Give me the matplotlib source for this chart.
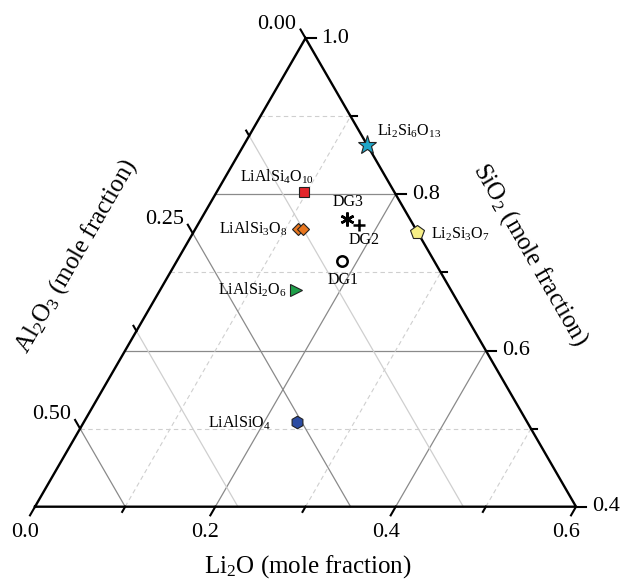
import numpy as np
import matplotlib
matplotlib.use("Agg")
import matplotlib.pyplot as plt

plt.rcParams['font.family'] = ['Liberation Serif', 'DejaVu Serif']
plt.rcParams['mathtext.fontset'] = 'custom'
plt.rcParams['mathtext.rm'] = 'Liberation Serif'
plt.rcParams['mathtext.it'] = 'Liberation Serif:italic'
plt.rcParams['mathtext.bf'] = 'Liberation Serif:bold'

# ---------------- data (mole fractions) ----------------
compound_labels = [r'Li$_2$Si$_6$O$_{13}$', r'LiAlSi$_4$O$_{10}$', r'LiAlSi$_3$O$_8$',
                   r'LiAlSi$_3$O$_8$', r'LiAlSi$_2$O$_6$', r'LiAlSiO$_4$', r'Li$_2$Si$_3$O$_7$']
compound_li2o = [0.137, 0.097, 0.114, 0.119, 0.151, 0.236, 0.248]
compound_al2o3 = [0.000, 0.100, 0.130, 0.125, 0.171, 0.255, 0.000]
compound_sio2 = [0.863, 0.803, 0.756, 0.756, 0.678, 0.509, 0.752]

glass_labels = ['DG1', 'DG2', 'DG3']
glass_li2o = [0.183, 0.179, 0.162]
glass_al2o3 = [0.103, 0.060, 0.070]
glass_sio2 = [0.714, 0.761, 0.768]

li2o_ticks = [0.0, 0.2, 0.4, 0.6]
li2o_minor = [0.1, 0.3, 0.5]
sio2_ticks = [0.4, 0.6, 0.8, 1.0]
sio2_minor = [0.5, 0.7, 0.9]
al2o3_ticks = [0.00, 0.25, 0.50]
al2o3_minor = [0.125, 0.375]

SI_MIN = 0.4
S3 = np.sqrt(3) / 2


def tern(li, si):
    li = np.asarray(li, float)
    si = np.asarray(si, float)
    return li + (si - SI_MIN) / 2, (si - SI_MIN) * S3


PX = 901.7  # pixels per data unit
fig = plt.figure(figsize=(6.2, 5.81), dpi=100)
ax = fig.add_axes([0, 0, 1, 1])
ax.set_xlim(-35 / PX, 585 / PX)
ax.set_ylim(-74.3 / PX, 506.7 / PX)
ax.axis('off')

dark = '#8a8a8a'
light = '#cfcfcf'

# constant SiO2 lines
for s in sio2_ticks[1:-1]:
    x, y = tern([0, 1 - s], [s, s])
    ax.plot(x, y, color=dark, lw=0.9, zorder=1)
for s in sio2_minor:
    x, y = tern([0, 1 - s], [s, s])
    ax.plot(x, y, color=light, lw=0.8, ls=(0, (4, 3)), zorder=1)
# constant Li2O lines
for l in li2o_ticks[1:-1]:
    x, y = tern([l, l], [SI_MIN, 1 - l])
    ax.plot(x, y, color=dark, lw=0.9, zorder=1)
for l in li2o_minor:
    x, y = tern([l, l], [SI_MIN, 1 - l])
    ax.plot(x, y, color=light, lw=0.8, ls=(0, (4, 3)), zorder=1)
# constant Al2O3 lines
for a in al2o3_ticks[1:]:
    x, y = tern([0, 1 - SI_MIN - a], [1 - a, SI_MIN])
    ax.plot(x, y, color=dark, lw=0.9, zorder=1)
for a in al2o3_minor:
    x, y = tern([0, 1 - SI_MIN - a], [1 - a, SI_MIN])
    ax.plot(x, y, color=light, lw=0.9, zorder=1)

# triangle frame
x, y = tern([0, 0.6, 0, 0], [SI_MIN, SI_MIN, 1.0, SI_MIN])
ax.plot(x, y, color='black', lw=1.7, zorder=3, solid_joinstyle='miter')

L_MAJ, L_MIN = 10 / PX, 6 / PX
fs_tick = 16

# bottom ticks (Li2O)
d = np.array([-0.5, -S3])
for l in li2o_ticks + li2o_minor:
    x0, y0 = tern(l, SI_MIN)
    L = L_MAJ if l in li2o_ticks else L_MIN
    ax.plot([x0, x0 + d[0] * L], [y0, y0 + d[1] * L], color='black', lw=1.5, zorder=3)
for l in li2o_ticks:
    x0, y0 = tern(l, SI_MIN)
    ax.annotate(f'{l:.1f}', (x0, y0), xytext=(-10, -26), textcoords='offset pixels',
                ha='center', va='center', fontsize=fs_tick)
# right ticks (SiO2)
for s in sio2_ticks + sio2_minor:
    x0, y0 = tern(1 - s, s)
    L = L_MAJ if s in sio2_ticks else L_MIN
    ax.plot([x0, x0 + L], [y0, y0], color='black', lw=1.5, zorder=3)
for s in sio2_ticks:
    x0, y0 = tern(1 - s, s)
    ax.annotate(f'{s:.1f}', (x0, y0), xytext=(16, 0), textcoords='offset pixels',
                ha='left', va='center', fontsize=fs_tick)
# left ticks (Al2O3)
d = np.array([-0.5, S3])
for a in al2o3_ticks + al2o3_minor:
    x0, y0 = tern(0, 1 - a)
    L = L_MAJ if a in al2o3_ticks else L_MIN
    ax.plot([x0, x0 + d[0] * L], [y0, y0 + d[1] * L], color='black', lw=1.5, zorder=3)
for a in al2o3_ticks:
    x0, y0 = tern(0, 1 - a)
    ax.annotate(f'{a:.2f}', (x0, y0), xytext=(-9, 14), textcoords='offset pixels',
                ha='right', va='center', fontsize=fs_tick)

# axis titles
fs_title = 18
x0, y0 = tern(0.3, SI_MIN)
ax.annotate(r'Li$_2$O (mole fraction)', (x0, y0), xytext=(2, -60), textcoords='offset pixels',
            ha='center', va='center', fontsize=fs_title)
x0, y0 = tern(0.0, 0.7)
ax.annotate(r'Al$_2$O$_3$ (mole fraction)', (x0, y0), xytext=(-94, 16), textcoords='offset pixels',
            ha='center', va='center', fontsize=fs_title, rotation=60, rotation_mode='anchor')
x0, y0 = tern(0.3, 0.7)
ax.annotate(r'SiO$_2$ (mole fraction)', (x0, y0), xytext=(89, 18), textcoords='offset pixels',
            ha='center', va='center', fontsize=fs_title, rotation=-60, rotation_mode='anchor')

# compound markers
styles = [
    dict(marker='*', color='#1ea6c8', ms=14),
    dict(marker='s', color='#e3262b', ms=7.5),
    dict(marker='D', color='#e8761f', ms=6.5),
    dict(marker='D', color='#e8761f', ms=6.5),
    dict(marker='>', color='#1fa04a', ms=8.5),
    dict(marker='h', color='#2c4ca2', ms=9),
    dict(marker='p', color='#f6ee86', ms=10),
]
lab_off = [(10, 14, 'left'), (-27, 15, 'center'), (-11, 0, 'right'), None,
           (-10, 0, 'right'), (-26, -1, 'right'), (14, -2, 'left')]
fs_lab = 11.5
for i in range(len(compound_labels)):
    x0, y0 = tern(compound_li2o[i], compound_sio2[i])
    st = styles[i]
    ax.plot([x0], [y0], ls='none', marker=st['marker'], ms=st['ms'], mfc=st['color'],
            mec='#222222', mew=0.8, zorder=5)
    if lab_off[i] is not None:
        dx, dy, ha = lab_off[i]
        ax.annotate(compound_labels[i], (x0, y0), xytext=(dx, dy), textcoords='offset pixels',
                    ha=ha, va='center', fontsize=fs_lab, zorder=6)

# glass samples
gstyles = [dict(marker='o', ms=7.5, mfc='white', mew=1.8),
           dict(marker='+', ms=9, mfc='black', mew=1.8),
           dict(marker=(6, 2, 0), ms=10, mfc='black', mew=1.8)]
goff = [(2, -19), (5, -15), (1, 17)]
for i in range(len(glass_labels)):
    x0, y0 = tern(glass_li2o[i], glass_sio2[i])
    st = gstyles[i]
    ax.plot([x0], [y0], ls='none', marker=st['marker'], ms=st['ms'], mfc=st['mfc'],
            mec='black', mew=st['mew'], zorder=5)
    ax.annotate(glass_labels[i], (x0, y0), xytext=goff[i], textcoords='offset pixels',
                ha='center', va='center', fontsize=fs_lab, zorder=6)

fig.savefig('out.png', dpi=100)
